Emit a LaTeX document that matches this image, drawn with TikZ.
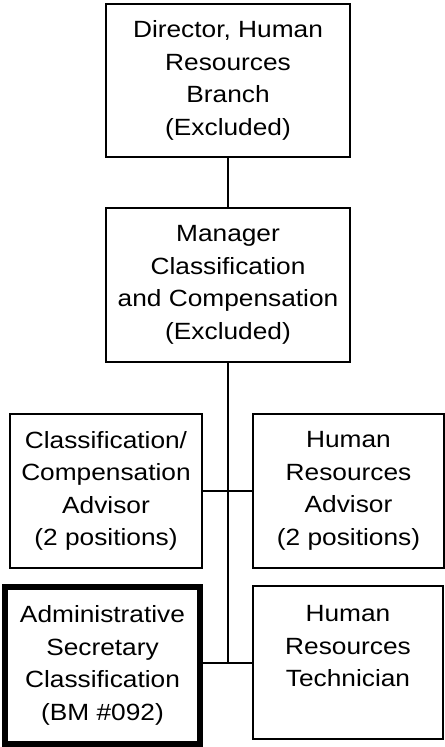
\documentclass[tikz,border=0pt]{standalone}
\usepackage{fontspec}
\setmainfont{Liberation Sans}[FakeStretch=1.12]

\begin{document}
\begin{tikzpicture}[x=0.75pt,y=-0.75pt,font=\fontsize{17.6}{24.4}\selectfont,
  post/.style={draw,line width=1.2pt,align=center,inner sep=0pt},
  link/.style={line width=1pt},
  trunk/.style={line width=2pt}]

\useasboundingbox (0,0) rectangle (445,747);

% boxes
\node[post,minimum width=183pt,minimum height=114.75pt] (dir) at (228,80.5)
  {Director, Human\\Resources\\Branch\\(Excluded)};
\node[post,minimum width=183pt,minimum height=115.5pt] (mgr) at (228,285)
  {Manager\\Classification\\and Compensation\\(Excluded)};
\node[post,minimum width=144pt,minimum height=115.5pt] (cca) at (106,491)
  {Classification/\\Compensation\\Advisor\\(2 positions)};
\node[post,minimum width=143.25pt,minimum height=115.5pt] (hra) at (348.5,491)
  {Human\\Resources\\Advisor\\(2 positions)};
\node[post,line width=4.5pt,minimum width=146.25pt,minimum height=117.75pt] (adm) at (102.5,665.5)
  {Administrative\\Secretary\\Classification\\(BM \#092)};
\node[post,minimum width=142.5pt,minimum height=114.75pt] (hrt) at (348,662.5)
  {Human\\Resources\\Technician\\\mbox{}};

% lines
\coordinate (j1) at (228,491);
\coordinate (j2) at (228,663);

\draw[link] (dir.south) -- (mgr.north);
\draw[link] (cca.east) -- (hra.west);
\draw[link] (adm.east |- j2) -- (hrt.west |- j2);
\draw[trunk] (mgr.south) -- (j2);

\end{tikzpicture}
\end{document}
